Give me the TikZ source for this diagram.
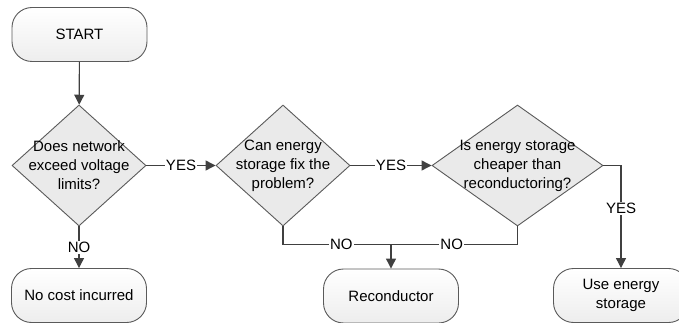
\documentclass[tikz,border=0pt]{standalone}
\usepackage{fontspec}
\setmainfont{Liberation Sans}
\usetikzlibrary{shapes.geometric,arrows.meta,calc}
\definecolor{edgec}{HTML}{5A5A5A}
\definecolor{linec}{HTML}{404040}
\definecolor{diafill}{HTML}{EAEAEA}
\begin{document}
\begin{tikzpicture}[x=1pt,y=-1pt,
  every node/.style={font=\fontsize{15}{19}\selectfont},
  term/.style={draw=edgec, line width=0.9pt, rectangle, rounded corners=20pt,
     top color=white, bottom color=black!7, minimum width=135pt, minimum height=54pt, align=center, inner sep=0pt},
  decision/.style={draw=edgec, line width=0.9pt, diamond, fill=diafill, minimum width=#1, minimum height=121pt, inner sep=0pt},
  conn/.style={draw=linec, line width=1.2pt},
  arr/.style={conn, -{Triangle[length=10pt,width=10pt]}},
  lbl/.style={fill=white, inner sep=1pt, text=black}
]
\useasboundingbox (0,0) rectangle (679,323);

\node[term] (start) at (79.5,34.5) {START};
\node[decision=134pt, label={[align=center]center:Does network\\exceed voltage\\limits?}] (d1) at (79,165.5) {};
\node[decision=134pt, label={[align=center]center:Can energy\\storage fix the\\problem?}] (d2) at (283,165.5) {};
\node[decision=171pt, label={[align=center]center:Is energy storage\\cheaper than\\reconductoring?}] (d3) at (517.5,165.5) {};
\node[term] (nocost) at (79,295.5) {No cost incurred};
\node[term] (recon) at (391,296) {Reconductor};
\node[term] (use) at (621,295.5) {Use energy\\storage};

\coordinate (j) at ($(recon.north)+(0,-24)$);

\draw[arr] (start) -- (d1);
\draw[arr] (d1.east) -- node[lbl]{YES} (d2.west);
\draw[arr] (d2.east) -- node[lbl]{YES} (d3.west);
\draw[arr] (d3.east) -| node[lbl, pos=0.71]{YES} (use.north);
\draw[arr] (d1.south) -- node[lbl]{NO} (nocost.north);
\draw[conn] (d2.south) |- node[lbl, pos=0.77]{NO} (j);
\draw[conn] (d3.south) |- node[lbl, pos=0.76]{NO} (j);
\draw[arr] (j) -- (recon.north);
\end{tikzpicture}
\end{document}
